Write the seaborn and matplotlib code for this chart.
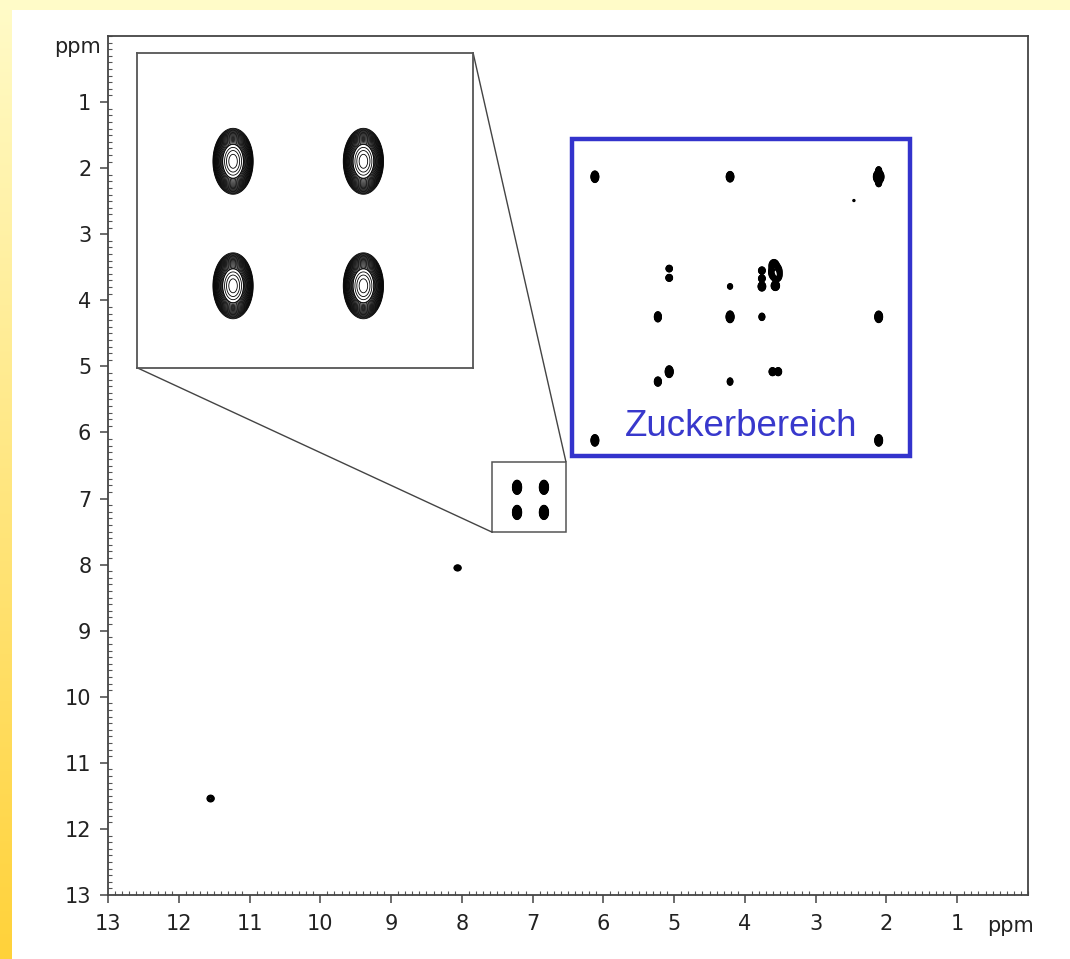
import numpy as np
import matplotlib
matplotlib.use("Agg")
import matplotlib.pyplot as plt
import matplotlib.patches as mpatches
from matplotlib.ticker import MultipleLocator
import seaborn as sns

# ---------------- data (chemical shifts in ppm) ----------------
# cross / diagonal peaks: F2 (horizontal), F1 (vertical), amplitude, widths
peak_f2 = [7.22, 6.84, 7.22, 6.84,
           11.55, 8.06,
           6.12, 4.21, 2.11, 2.11, 2.11, 2.46,
           5.07, 5.07, 4.21, 3.76, 3.76, 3.76,
           3.57, 3.59, 3.55, 3.57,
           5.23, 4.21, 3.76, 2.11,
           5.07, 5.23, 4.21, 3.61, 3.53,
           6.12, 2.11]
peak_f1 = [6.83, 6.83, 7.21, 7.21,
           11.54, 8.05,
           2.13, 2.13, 2.13, 2.03, 2.23, 2.49,
           3.52, 3.66, 3.79, 3.55, 3.67, 3.79,
           3.57, 3.47, 3.63, 3.78,
           4.25, 4.25, 4.25, 4.25,
           5.08, 5.23, 5.23, 5.08, 5.08,
           6.12, 6.12]
peak_amp = [1.0, 1.0, 1.0, 1.0,
            0.10, 0.10,
            0.6, 0.5, 0.9, 0.25, 0.25, 0.03,
            0.3, 0.4, 0.12, 0.3, 0.3, 0.5,
            1.0, 0.6, 0.6, 0.5,
            0.4, 0.7, 0.2, 0.6,
            0.7, 0.4, 0.2, 0.35, 0.35,
            0.6, 0.6]
peak_wx = [0.021, 0.021, 0.021, 0.021,
           0.025, 0.025,
           0.019, 0.019, 0.025, 0.015, 0.015, 0.012,
           0.017, 0.017, 0.016, 0.018, 0.018, 0.019,
           0.032, 0.024, 0.024, 0.021,
           0.018, 0.019, 0.017, 0.019,
           0.019, 0.018, 0.016, 0.018, 0.018,
           0.019, 0.019]
peak_wy = [0.036, 0.036, 0.036, 0.036,
           0.025, 0.022,
           0.031, 0.029, 0.036, 0.020, 0.020, 0.012,
           0.019, 0.019, 0.019, 0.021, 0.021, 0.025,
           0.047, 0.031, 0.031, 0.026,
           0.029, 0.031, 0.023, 0.031,
           0.031, 0.026, 0.023, 0.023, 0.023,
           0.031, 0.031]

x_ticks = [13, 12, 11, 10, 9, 8, 7, 6, 5, 4, 3, 2, 1]
y_ticks = [1, 2, 3, 4, 5, 6, 7, 8, 9, 10, 11, 12, 13]
axis_unit = "ppm"
region_label = "Zuckerbereich"

# boxes in ppm: (x_left, x_right, y_top, y_bottom)
sugar_box = (6.44, 1.67, 1.56, 6.35)
zoom_box = (7.57, 6.53, 6.44, 7.51)
inset_place = (12.59, 7.84, 0.26, 5.02)
inset_view = (7.50, 6.52, 6.50, 7.46)
label_pos = (4.06, 5.91)

# ---------------- styling ----------------
sns.set_theme(style="ticks")
plt.rcParams["font.family"] = ["DejaVu Sans"]

W, H = 1070, 959
fig = plt.figure(figsize=(W / 100, H / 100), dpi=100, facecolor="white")

# background decoration (yellow bands)
bg = fig.add_axes([0, 0, 1, 1], zorder=-10)
bg.set_xlim(0, W)
bg.set_ylim(H, 0)
bg.axis("off")
top_c = np.array([255, 251, 200]) / 255
bot_c = np.array([255, 210, 58]) / 255
t = np.linspace(0, 1, 256)[:, None, None]
grad = (1 - t) * top_c + t * bot_c
bg.imshow(grad, extent=[0, 12, H, 0], aspect="auto", interpolation="bilinear")
bg.imshow(np.tile(top_c, (1, 2, 1)), extent=[0, W, 10, 0], aspect="auto")

ax = fig.add_axes([108 / W, 1 - 895 / H, (1028 - 108) / W, (895 - 36) / H])
ax.set_xlim(13, 0)
ax.set_ylim(13, 0)
ax.set_facecolor("white")


def spectrum(xs, ys):
    Z = np.zeros((len(ys), len(xs)))
    for px, py, a, wx, wy in zip(peak_f2, peak_f1, peak_amp, peak_wx, peak_wy):
        gx = np.exp(-0.5 * ((xs - px) / wx) ** 2)
        gy = np.exp(-0.5 * ((ys - py) / wy) ** 2)
        Z += a * np.outer(gy, gx)
    return Z


main_levels = np.concatenate([0.02 * 1.4 ** np.arange(9), [0.45, 0.6, 0.8]])
inset_levels = np.concatenate([0.02 * 1.17 ** np.arange(19), [0.36, 0.5, 0.66, 0.84]])

xs = np.arange(0, 13.0001, 0.006)
ys = np.arange(0, 13.0001, 0.006)
Z = spectrum(xs, ys)
ax.contour(xs, ys, Z, levels=main_levels, colors="black", linewidths=1.4, zorder=2)

# ticks
ax.set_xticks(x_ticks)
ax.set_yticks(y_ticks)
ax.xaxis.set_minor_locator(MultipleLocator(0.1))
ax.yaxis.set_minor_locator(MultipleLocator(0.1))
ax.tick_params(which="major", direction="out", length=6, width=1.1,
               color="#444444", labelsize=15, labelcolor="#222222")
ax.tick_params(axis="x", which="major", pad=8)
ax.tick_params(axis="y", which="major", pad=6)
ax.tick_params(which="minor", direction="in", length=3, width=0.8, color="#555555")
for s in ax.spines.values():
    s.set_color("#444444")
    s.set_linewidth(1.3)

# unit labels
ax.annotate(axis_unit, xy=(0.25, 0), xycoords=("data", "axes fraction"),
            xytext=(0, -31), textcoords="offset pixels", ha="center", va="center",
            fontsize=15, color="#222222")
ax.annotate(axis_unit, xy=(0, 0.16), xycoords=("axes fraction", "data"),
            xytext=(-7, 0), textcoords="offset pixels", ha="right", va="center",
            fontsize=15, color="#222222")

# small zoom box
zx0, zx1, zy0, zy1 = zoom_box
ax.add_patch(mpatches.Rectangle((min(zx0, zx1), min(zy0, zy1)), abs(zx1 - zx0), abs(zy1 - zy0),
                                fill=False, edgecolor="#555555", linewidth=1.1, zorder=3))
# connectors
ix0, ix1, iy0, iy1 = inset_place
ax.plot([ix0, zx0], [iy1, zy1], color="#444444", lw=1.0, zorder=3)
ax.plot([ix1, zx1], [iy0, zy0], color="#444444", lw=1.0, zorder=3)

# inset
p0 = ax.transLimits.transform((ix0, iy1))
p1 = ax.transLimits.transform((ix1, iy0))
axin = ax.inset_axes([min(p0[0], p1[0]), min(p0[1], p1[1]),
                      abs(p1[0] - p0[0]), abs(p1[1] - p0[1])])
axin.set_facecolor("white")
vx0, vx1, vy0, vy1 = inset_view
xi = np.arange(vx1, vx0 + 0.0001, 0.0012)
yi = np.arange(vy0, vy1 + 0.0001, 0.0012)
Zi = spectrum(xi, yi)
axin.contour(xi, yi, Zi, levels=inset_levels, colors="black", linewidths=0.6)
axin.set_xlim(vx0, vx1)
axin.set_ylim(vy1, vy0)
axin.set_xticks([])
axin.set_yticks([])
for s in axin.spines.values():
    s.set_color("#555555")
    s.set_linewidth(1.3)

# sugar region highlight
sx0, sx1, sy0, sy1 = sugar_box
ax.add_patch(mpatches.Rectangle((min(sx0, sx1), min(sy0, sy1)), abs(sx1 - sx0), abs(sy1 - sy0),
                                fill=False, edgecolor="#3333CC", linewidth=3.2, zorder=4))
ax.text(label_pos[0], label_pos[1], region_label, ha="center", va="center",
        fontsize=26.5, color="#3838CC", family=["Liberation Sans", "DejaVu Sans"], zorder=5)

fig.savefig("out.png", dpi=100, facecolor="white")
